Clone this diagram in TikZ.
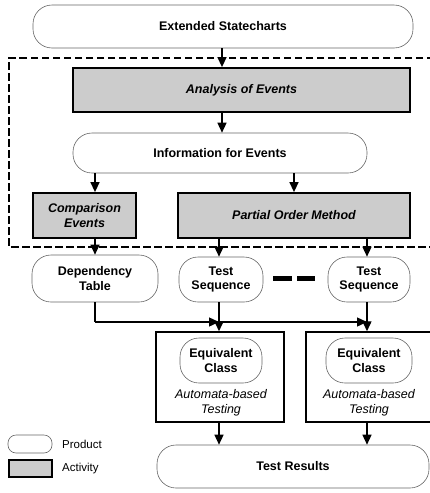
\documentclass[tikz,border=0pt]{standalone}
\usepackage{fontspec}
\setmainfont{Liberation Sans}
\usetikzlibrary{arrows.meta}
\begin{document}
\begin{tikzpicture}[x=1pt,y=-1pt,
  product/.style={draw=black!60,line width=0.6pt,rounded corners=19pt,
    align=center,inner sep=0pt,font=\fontsize{12.5}{14.5}\selectfont\bfseries},
  activity/.style={draw=black,line width=1.8pt,fill=black!20,
    align=center,inner sep=0pt,font=\fontsize{12.5}{15}\selectfont\bfseries\itshape},
  testbox/.style={draw=black,line width=1.5pt,inner sep=0pt},
  arr/.style={line width=1.4pt,-{Triangle[length=10pt,width=9pt]}},
  ln/.style={line width=1.4pt},
  region/.style={line width=2.3pt,dash pattern=on 7.5pt off 3.5pt},
  legendtext/.style={anchor=west,inner sep=0pt,font=\fontsize{11.5}{14}\selectfont}]
\useasboundingbox (0,0) rectangle (430,493);
\clip (0,0) rectangle (430,493);

% scope of the event analysis
\draw[region] (445,58) -- (9,58) -- (9,247) -- (445,247);

% products and activities
\node[product,minimum width=380pt,minimum height=43pt] (es) at (223,26.5) {Extended Statecharts};
\node[activity,minimum width=337pt,minimum height=44pt] (ana) at (241.5,90) {Analysis of Events};
\node[product,minimum width=294pt,minimum height=40pt] (info) at (220,153) {Information for Events};
\node[activity,minimum width=103pt,minimum height=45pt] (cmp) at (84.5,215.5) {Comparison\\Events};
\node[activity,minimum width=232pt,minimum height=45pt] (pom) at (294,215.5) {Partial Order Method};
\node[product,minimum width=126pt,minimum height=47pt] (dep) at (95,278.5) {Dependency\\Table};
\node[product,minimum width=84pt,minimum height=45pt] (ts1) at (221,279.5) {Test\\Sequence};
\node[product,minimum width=82pt,minimum height=45pt] (ts2) at (369,279.5) {Test\\Sequence};

% omitted test sequences
\draw[line width=5pt] (273,278) -- (292,278) (297,278) -- (315,278);

% automata-based testing
\node[testbox,minimum width=128pt,minimum height=90pt] (box1) at (220,377) {};
\node[testbox,minimum width=134pt,minimum height=90pt] (box2) at (373,377) {};
\node[product,minimum width=82pt,minimum height=45pt] (eq1) at (221,360.5) {Equivalent\\Class};
\node[product,minimum width=86pt,minimum height=45pt] (eq2) at (369,360.5) {Equivalent\\Class};
\node[inner sep=0pt,align=center,font=\fontsize{12.5}{15}\selectfont\itshape] (abt1) at (221,402.5) {Automata-based\\Testing};
\node[inner sep=0pt,align=center,font=\fontsize{12.5}{15}\selectfont\itshape] (abt2) at (369,402.5) {Automata-based\\Testing};
\node[product,minimum width=272pt,minimum height=43pt] (tr) at (293,466.5) {Test Results};

% flow
\coordinate (c95) at (95,0);
\coordinate (c222) at (222,0);
\coordinate (c294) at (294,0);
\coordinate (c219) at (219,0);
\coordinate (c367) at (367,0);
\coordinate (join) at (95,322);
\draw[arr] (es.south -| c222) -- (ana.north -| c222);
\draw[arr] (ana.south -| c222) -- (info.north -| c222);
\draw[arr] (info.south -| c95) -- (cmp.north -| c95);
\draw[arr] (info.south -| c294) -- (pom.north -| c294);
\draw[arr] (cmp.south -| c95) -- (dep.north -| c95);
\draw[arr] (pom.south -| c219) -- (ts1.north -| c219);
\draw[arr] (pom.south -| c367) -- (ts2.north -| c367);
\draw[ln] (dep.south -| c95) -- (join);
\draw[arr] (join) -- (join -| c219);
\draw[arr] (join -| c219) -- (join -| c367);
\draw[arr] (ts1.south -| c219) -- (box1.north -| c219);
\draw[arr] (ts2.south -| c367) -- (box2.north -| c367);
\draw[arr] (box1.south -| c219) -- (tr.north -| c219);
\draw[arr] (box2.south -| c367) -- (tr.north -| c367);

% legend
\node[draw=black!60,line width=0.6pt,rounded corners=8pt,minimum width=44pt,minimum height=18pt,inner sep=0pt] (lp) at (30,444) {};
\node[legendtext] (lpt) at (62,444) {Product};
\node[draw=black,line width=1.8pt,fill=black!20,minimum width=43pt,minimum height=17pt,inner sep=0pt] (la) at (30.5,468.5) {};
\node[legendtext] (lat) at (62,468.5) {Activity};
\end{tikzpicture}
\end{document}
